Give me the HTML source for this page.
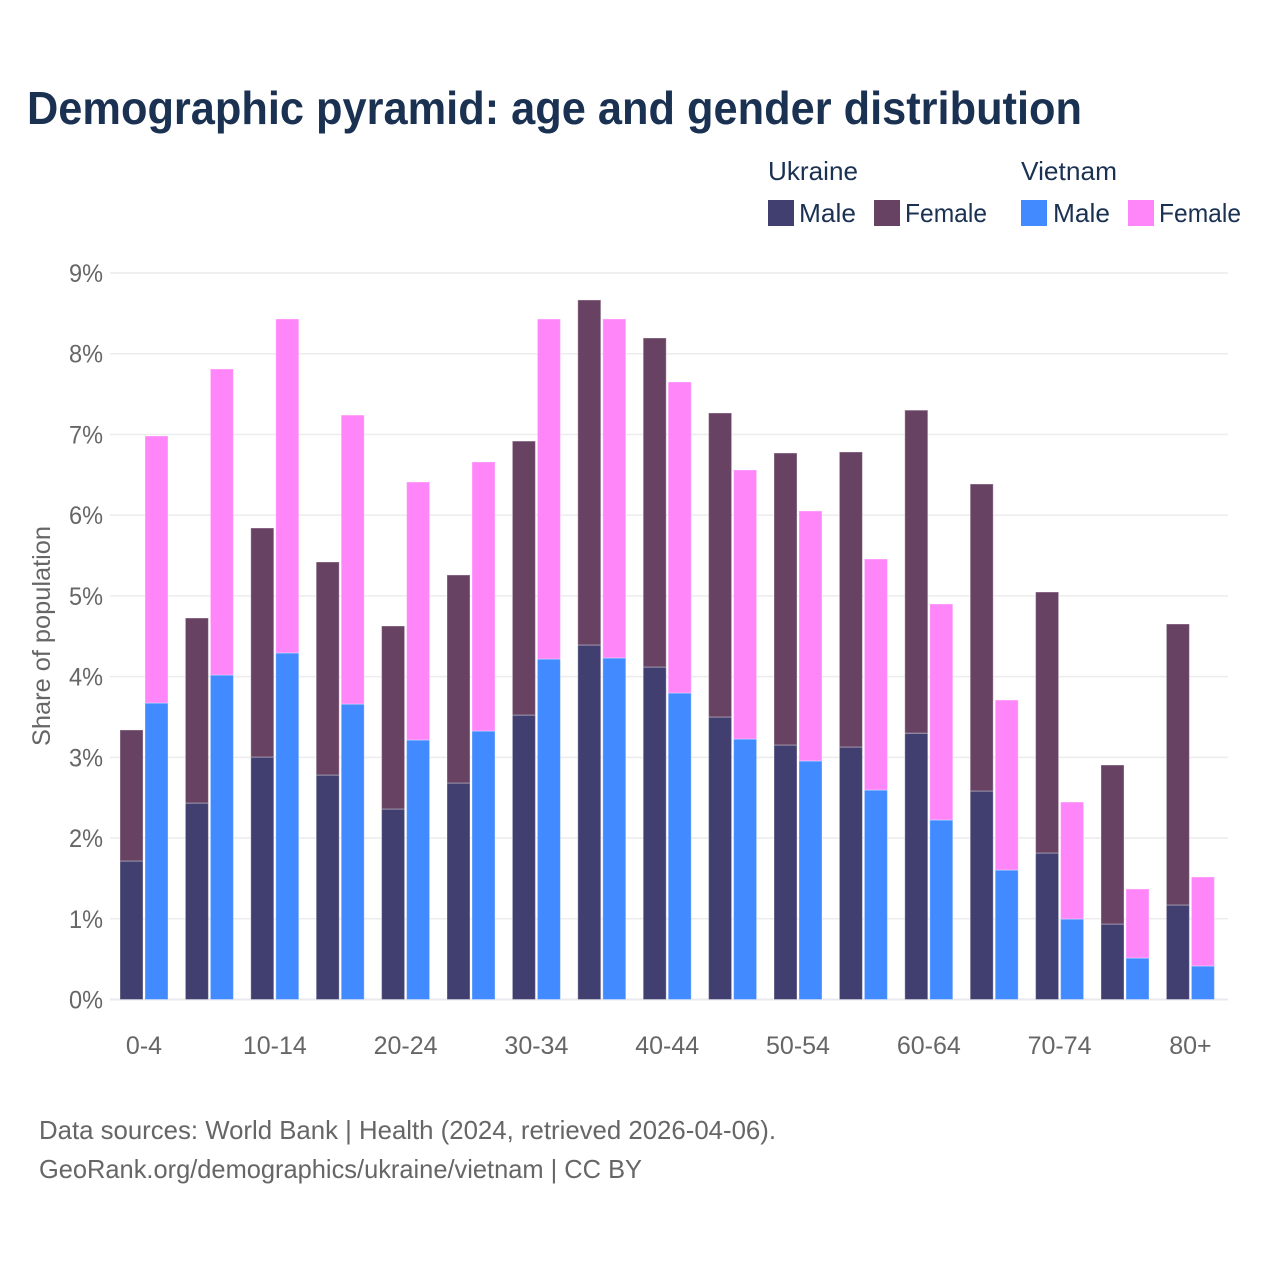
<!DOCTYPE html>
<html lang="en">
<head>
<meta charset="utf-8">
<title>Demographic pyramid: age and gender distribution</title>
<style>
html,body{margin:0;padding:0;background:#fff;width:1280px;height:1280px;overflow:hidden}
svg{display:block}
text{font-family:"Liberation Sans",sans-serif}
</style>
</head>
<body>
<svg id="chart" xmlns="http://www.w3.org/2000/svg" width="1280" height="1280" viewBox="0 0 1280 1280">
  <rect x="0" y="0" width="1280" height="1280" fill="#fff"/>
  <text x="27" y="124" font-size="46" font-weight="700" fill="#1a3152" textLength="1055" lengthAdjust="spacingAndGlyphs">Demographic pyramid: age and gender distribution</text>

  <g font-size="26" fill="#1a3152">
    <text x="768" y="180" textLength="90" lengthAdjust="spacingAndGlyphs">Ukraine</text>
    <text x="1021" y="180" textLength="96" lengthAdjust="spacingAndGlyphs">Vietnam</text>
    <rect x="768" y="200" width="26" height="26" fill="#413f6f"/>
    <text x="799" y="222" textLength="57" lengthAdjust="spacingAndGlyphs">Male</text>
    <rect x="874" y="200" width="26" height="26" fill="#684263"/>
    <text x="905" y="222" textLength="82" lengthAdjust="spacingAndGlyphs">Female</text>
    <rect x="1021" y="200" width="26" height="26" fill="#418aff"/>
    <text x="1053" y="222" textLength="57" lengthAdjust="spacingAndGlyphs">Male</text>
    <rect x="1128" y="200" width="26" height="26" fill="#ff86f9"/>
    <text x="1159" y="222" textLength="82" lengthAdjust="spacingAndGlyphs">Female</text>
  </g>

  <g id="grid"></g>
  <g id="yticks"></g>
  <g id="bars"></g>
  <g id="xticks"></g>

  <text transform="translate(50,636) rotate(-90)" text-anchor="middle" font-size="25" fill="#666" textLength="220" lengthAdjust="spacingAndGlyphs">Share of population</text>

  <text x="39" y="1139" font-size="26" fill="#666" textLength="737" lengthAdjust="spacingAndGlyphs">Data sources: World Bank | Health (2024, retrieved 2026-04-06).</text>
  <text x="39" y="1178" font-size="26" fill="#666" textLength="603" lengthAdjust="spacingAndGlyphs">GeoRank.org/demographics/ukraine/vietnam | CC BY</text>
</svg>
<script>
const categories = ["0-4","5-9","10-14","15-19","20-24","25-29","30-34","35-39","40-44","45-49","50-54","55-59","60-64","65-69","70-74","75-79","80+"];
const ukraineMale = [1.716,2.434,3.004,2.781,2.36,2.682,3.524,4.392,4.119,3.5,3.153,3.128,3.3,2.583,1.815,0.935,1.171];
const ukraineFemale = [1.623,2.292,2.837,2.639,2.267,2.577,3.394,4.274,4.076,3.766,3.617,3.655,4.001,3.803,3.233,1.97,3.481];
const vietnamMale = [3.673,4.02,4.293,3.66,3.215,3.326,4.218,4.231,3.797,3.227,2.955,2.595,2.224,1.604,0.997,0.514,0.415];
const vietnamFemale = [3.308,3.791,4.138,3.58,3.196,3.333,4.212,4.2,3.853,3.333,3.097,2.862,2.676,2.106,1.449,0.855,1.103];
const yTicks = [0,1,2,3,4,5,6,7,8,9];

const NS = "http://www.w3.org/2000/svg";
const xCenter = function (i) { return 144 + 65.4 * i; };
const yScale = function (v) { return 999.5 - 80.72 * v; };

const grid = document.getElementById("grid");
const yticks = document.getElementById("yticks");
const xticks = document.getElementById("xticks");
const bars = document.getElementById("bars");

yTicks.forEach(function (t) {
  const line = document.createElementNS(NS, "line");
  
  
  line.setAttribute("x1", 110);
  line.setAttribute("x2", 1228);
  line.setAttribute("y1", yScale(t));
  line.setAttribute("y2", yScale(t));
  line.setAttribute("stroke", t === 0 ? "#e9e9ef" : "#ececec");
  line.setAttribute("stroke-width", t === 0 ? 2 : 1.5);
  grid.appendChild(line);

  const label = document.createElementNS(NS, "text");
  
  
  label.setAttribute("x", 103);
  label.setAttribute("y", yScale(t) + 9);
  label.setAttribute("text-anchor", "end");
  label.setAttribute("font-size", 25);
  label.setAttribute("fill", "#666");
  label.setAttribute("textLength", 34);
  label.setAttribute("lengthAdjust", "spacingAndGlyphs");
  label.textContent = t + "%";
  yticks.appendChild(label);
});

function addBar(i, offset, base, value, color, name) {
  const r = document.createElementNS(NS, "rect");
  
  
  r.setAttribute("x", xCenter(i) + offset);
  r.setAttribute("width", 23);
  r.setAttribute("y", yScale(base + value));
  r.setAttribute("height", yScale(base) - yScale(base + value));
  r.setAttribute("fill", color);
  r.setAttribute("stroke", "#fff");
  r.setAttribute("stroke-opacity", "0.35");
  r.setAttribute("stroke-width", "1");
  bars.appendChild(r);
}

categories.forEach(function (c, i) {
  addBar(i, -24, 0, ukraineMale[i], "#413f6f", "bar-ukraine-male");
  addBar(i, -24, ukraineMale[i], ukraineFemale[i], "#684263", "bar-ukraine-female");
  addBar(i, 1, 0, vietnamMale[i], "#418aff", "bar-vietnam-male");
  addBar(i, 1, vietnamMale[i], vietnamFemale[i], "#ff86f9", "bar-vietnam-female");

  if (i % 2 === 0) {
    const label = document.createElementNS(NS, "text");
    
    
    label.setAttribute("x", xCenter(i));
    label.setAttribute("y", 1054);
    label.setAttribute("text-anchor", "middle");
    label.setAttribute("font-size", 25);
    label.setAttribute("fill", "#666");
    label.textContent = c;
    xticks.appendChild(label);
  }
});
</script>
</body>
</html>
